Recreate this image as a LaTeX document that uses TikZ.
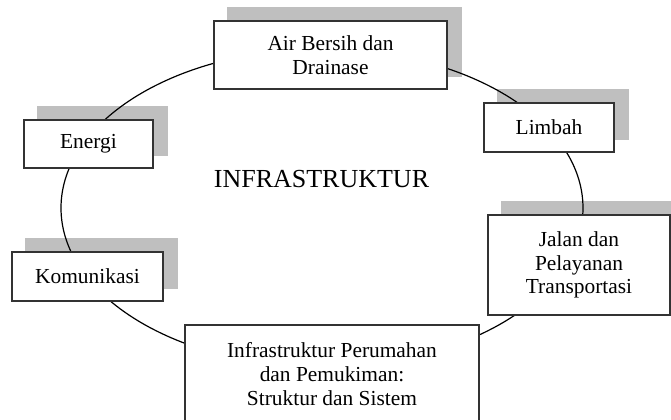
\documentclass[tikz,border=0pt]{standalone}
\usepackage{fontspec}
\setmainfont{Liberation Serif}
\usepackage{tikz}
\pgfdeclarelayer{shadowlayer}
\pgfdeclarelayer{ringlayer}
\pgfsetlayers{shadowlayer,ringlayer,main}

\begin{document}
\begin{tikzpicture}[x=0.5pt,y=-0.5pt,
	box/.style={shape=rectangle,draw=black!80,line width=.9pt,fill=white,align=center,inner sep=0pt,font=\fontsize{10.7}{11.8}\selectfont},
	shade/.style={fill=black!25}]
		\useasboundingbox (0,0) rectangle (671,419);
		\node (air) at (330.5,55) [box,minimum width=116.5pt,minimum height=34pt] {Air Bersih dan\\Drainase};
		\node (energi) at (88.5,144) [box,minimum width=64.5pt,minimum height=24pt] {Energi};
		\node (komunikasi) at (87.5,276.5) [box,minimum width=75.5pt,minimum height=24.5pt] {Komunikasi};
		\node (limbah) at (549,127.5) [box,minimum width=65pt,minimum height=24.5pt] {Limbah};
		\node (jalan) at (579,265) [box,minimum width=91pt,minimum height=50pt] {Jalan dan\\Pelayanan\\Transportasi};
		\node (perumahan) at (332,374) [box,minimum width=147pt,minimum height=49pt] {Infrastruktur Perumahan\\dan Pemukiman:\\Struktur dan Sistem};
		\node (title) at (321.5,179) [font=\fontsize{13}{15}\selectfont] {INFRASTRUKTUR};
		\begin{pgfonlayer}{ringlayer}
		\draw [line width=.6pt] (322,208) ellipse [x radius=261,y radius=159];
		\end{pgfonlayer}
		\begin{pgfonlayer}{shadowlayer}
		\foreach \n in {air,energi,komunikasi,limbah,jalan}
			\fill [shade] ([shift={(14,-13)}]\n.south west) rectangle ([shift={(14,-13)}]\n.north east);
		\end{pgfonlayer}
	\end{tikzpicture}
\end{document}
